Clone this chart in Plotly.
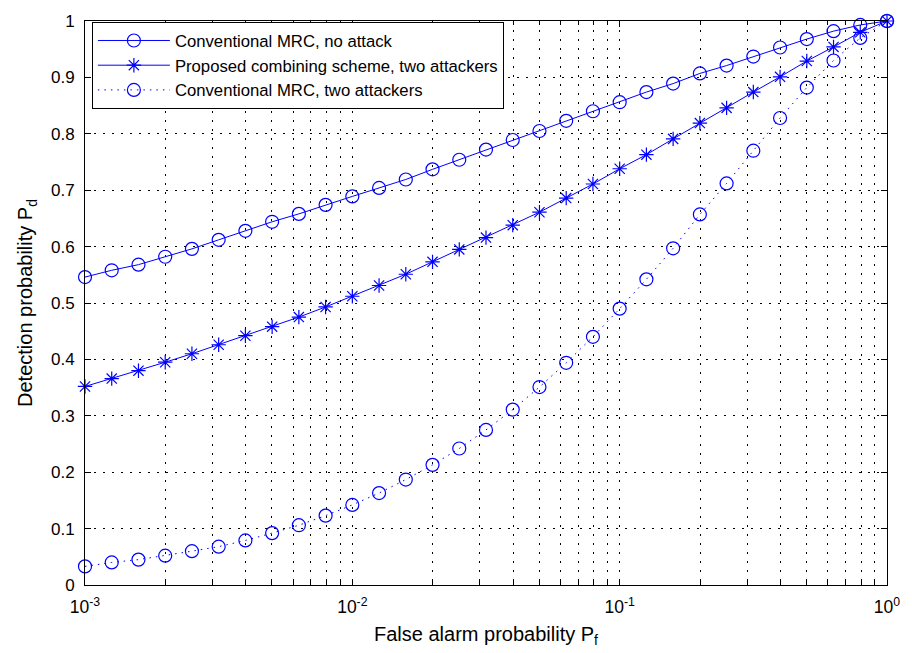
import plotly.graph_objects as go

exponents = [-3 + 0.1 * k for k in range(31)]
pf = [10 ** e for e in exponents]

pd_no_attack = [0.546, 0.558, 0.568, 0.582, 0.596, 0.612, 0.628, 0.644, 0.658, 0.674,
                0.689, 0.704, 0.719, 0.737, 0.754, 0.772, 0.789, 0.805, 0.823, 0.840,
                0.856, 0.874, 0.889, 0.907, 0.921, 0.937, 0.953, 0.968, 0.982, 0.993, 1.0]
pd_proposed = [0.352, 0.366, 0.380, 0.395, 0.410, 0.426, 0.442, 0.458, 0.475, 0.493,
               0.512, 0.531, 0.551, 0.573, 0.595, 0.616, 0.638, 0.661, 0.686, 0.711,
               0.738, 0.763, 0.791, 0.819, 0.846, 0.874, 0.901, 0.929, 0.954, 0.980, 1.0]
pd_two_attackers = [0.033, 0.040, 0.045, 0.052, 0.060, 0.068, 0.079, 0.092, 0.106, 0.123,
                    0.142, 0.163, 0.187, 0.213, 0.242, 0.275, 0.311, 0.351, 0.394, 0.440,
                    0.490, 0.542, 0.597, 0.657, 0.712, 0.770, 0.828, 0.882, 0.930, 0.970, 1.0]

names = ["Conventional MRC, no attack",
         "Proposed combining scheme, two attackers",
         "Conventional MRC, two attackers"]

x_major = [1e-3, 1e-2, 1e-1, 1]
x_major_text = ["10<sup>-3</sup>", "10<sup>-2</sup>", "10<sup>-1</sup>", "10<sup>0</sup>"]
x_minor = [m * d for d in [1e-3, 1e-2, 1e-1] for m in range(2, 10)]
y_ticks = [round(0.1 * i, 1) for i in range(11)]
y_text = ["0"] + [f"{v:.1f}" for v in y_ticks[1:-1]] + ["1"]

blue = "#0000ff"
grid_dash = "2px,7px"
fig = go.Figure()
fig.add_trace(go.Scatter(x=pf, y=pd_no_attack, name=names[0], mode="lines+markers",
                         line=dict(color=blue, width=1),
                         marker=dict(symbol="circle-open", size=13, color=blue, line=dict(width=1.2)),
                         cliponaxis=False))
fig.add_trace(go.Scatter(x=pf, y=pd_proposed, name=names[1], mode="lines+markers",
                         line=dict(color=blue, width=1),
                         marker=dict(symbol="asterisk-open", size=12, color=blue, line=dict(width=1.2)),
                         cliponaxis=False))
fig.add_trace(go.Scatter(x=pf, y=pd_two_attackers, name=names[2], mode="lines+markers",
                         line=dict(color=blue, width=1, dash="1.5px,5px"),
                         marker=dict(symbol="circle-open", size=13, color=blue, line=dict(width=1.2)),
                         cliponaxis=False))

font = "Liberation Sans, Arial, sans-serif"
fig.update_layout(
    width=912, height=653,
    margin=dict(l=85, r=15, t=15, b=68),
    paper_bgcolor="white", plot_bgcolor="white",
    font=dict(family=font, size=16.5, color="black"),
    showlegend=True,
    legend=dict(x=0.0086, y=0.998, xanchor="left", yanchor="top",
                bgcolor="white", bordercolor="black", borderwidth=1,
                font=dict(size=16.7, family=font), itemwidth=72,
                entrywidth=430, tracegroupgap=0),
    xaxis=dict(type="log", range=[-3, 0], tickvals=x_major, ticktext=x_major_text,
               ticks="inside", ticklen=6, tickcolor="black", showline=True, linecolor="black",
               linewidth=1, mirror="ticks", showgrid=True, gridcolor="black", griddash=grid_dash,
               gridwidth=1, zeroline=False, ticklabelstandoff=6,
               minor=dict(tickvals=x_minor, ticks="inside", ticklen=4, tickcolor="black",
                          showgrid=True, gridcolor="black", griddash=grid_dash, gridwidth=1),
               title=dict(text="False alarm probability P<sub>f</sub>", standoff=10),
               tickfont=dict(size=17.5)),
    yaxis=dict(range=[0, 1], tickvals=y_ticks, ticktext=y_text,
               ticks="inside", ticklen=6, tickcolor="black", showline=True, linecolor="black",
               linewidth=1, mirror="ticks", showgrid=True, gridcolor="black", griddash=grid_dash,
               gridwidth=1, zeroline=False, ticklabelstandoff=6,
               title=dict(text="Detection probability P<sub>d</sub>", standoff=12),
               tickfont=dict(size=17)),
)

fig.write_html("out.html")
